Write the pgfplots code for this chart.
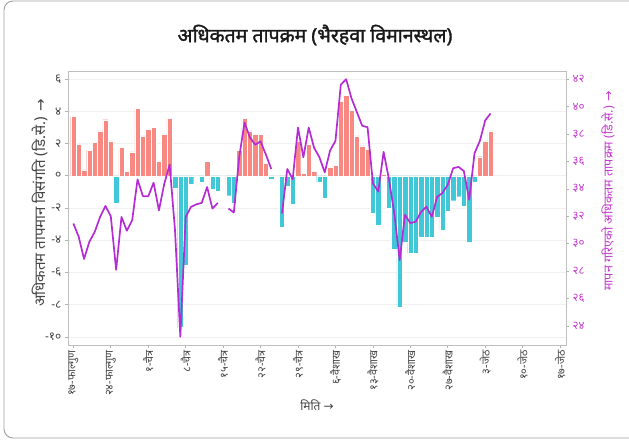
\documentclass[border=0pt]{standalone}
\usepackage{fontspec}
\setmainfont[Script=Devanagari]{Noto Sans}
\newfontfamily\titlefont[Script=Devanagari, FakeBold=1.6]{Noto Sans}
\newfontfamily\dejavu{DejaVu Sans}
\usepackage{pgfplots}
\pgfplotsset{compat=1.18}
\definecolor{posbar}{RGB}{248,137,130}
\definecolor{negbar}{RGB}{64,200,216}
\definecolor{tline}{RGB}{182,44,212}
\definecolor{raxis}{RGB}{196,60,208}
\definecolor{txt}{RGB}{70,70,70}

\pgfplotstableread{
day val
0 3.67
1 1.96
2 0.37
3 1.59
4 2.06
5 2.78
6 3.48
7 2.16
9 1.77
10 0.27
11 1.48
12 4.18
13 2.47
14 2.89
15 2.99
16 0.89
17 2.58
18 3.57
25 0.89
31 1.59
32 3.57
33 2.78
34 2.58
35 2.58
36 0.78
42 2.16
43 0.14
44 1.96
45 0.27
48 0.52
49 0.66
50 4.60
51 4.99
52 4.08
53 2.47
54 1.86
55 1.65
58 0.10
76 1.18
77 2.16
78 2.78
}\posdata

\pgfplotstableread{
day val
8 -1.71
19 -0.78
20 -9.42
21 -5.55
22 -0.52
24 -0.41
26 -0.82
27 -0.93
29 -1.24
30 -1.71
37 -0.20
39 -3.20
40 -0.62
41 -1.79
46 -0.41
47 -1.40
56 -2.31
57 -3.09
59 -2.00
60 -4.54
61 -8.14
62 -4.12
63 -4.80
64 -4.80
65 -3.81
66 -3.81
67 -3.81
68 -2.58
69 -3.40
70 -2.20
71 -1.55
72 -1.30
73 -1.90
74 -4.12
75 -0.41
}\negdata

\pgfplotstableread{
day temp
0 31.47
1 30.50
2 28.88
3 30.14
4 30.86
5 31.95
6 32.75
7 32.00
8 28.09
9 31.95
10 30.94
11 31.71
12 34.68
13 33.47
14 33.45
15 34.44
16 32.43
17 34.37
18 35.77
19 31.00
20 23.20
21 31.95
22 32.68
23 32.87
24 32.97
25 34.13
26 32.56
27 32.97
28 nan
29 32.56
30 32.27
31 36.30
32 38.84
33 37.75
34 37.22
35 37.46
36 36.49
37 35.45
38 nan
39 32.20
40 35.45
41 34.70
42 38.47
43 36.30
44 38.47
45 37.00
46 36.30
47 35.20
48 36.80
49 37.50
50 41.60
51 42.00
52 40.60
53 39.60
54 38.60
55 38.50
56 34.40
57 33.80
58 36.70
59 34.70
60 32.20
61 28.80
62 32.10
63 31.50
64 31.60
65 32.30
66 32.70
67 31.95
68 33.40
69 33.70
70 34.30
71 35.50
72 35.60
73 35.30
74 33.20
75 36.60
76 37.50
77 39.00
78 39.50
}\tempdata

\begin{document}
\begin{tikzpicture}[x=1pt,y=1pt]
\useasboundingbox (0,0) rectangle (629,439);
\draw[gray!75, rounded corners=9pt, line width=0.9pt] (4,1) rectangle (670,438);

\begin{axis}[
  at={(68pt,94pt)}, anchor=south west, scale only axis,
  width=498pt, height=274pt,
  xmin=-1, xmax=92.1, ymin=-10.5, ymax=6.5,
  axis line style={draw=gray!50, line width=0.8pt},
  xtick={0,7,...,91},
  xticklabels={१७-फाल्गुण,२४-फाल्गुण,१-चैत्र,८-चैत्र,१५-चैत्र,२२-चैत्र,२९-चैत्र,६-वैशाख,१३-वैशाख,२०-वैशाख,२७-वैशाख,३-जेठ,१०-जेठ,१७-जेठ},
  xticklabel style={rotate=90, anchor=east, font=\fontsize{11}{12}\selectfont, text=txt, inner sep=2pt},
  ytick={-10,-8,...,6},
  yticklabels={-१०,-८,-६,-४,-२,०,२,४,६},
  yticklabel style={font=\fontsize{12}{14}\selectfont, text=txt},
  ytick pos=left, xtick pos=bottom,
  tick align=outside, major tick length=3pt,
  tick style={gray!60, line width=0.6pt},
  ymajorgrids, grid style={gray!12, line width=0.6pt},
  clip=true,
]
\addplot[ybar, bar width=1, bar shift=0pt, fill=posbar, draw=white, line width=0.3pt] table[x=day,y=val] {\posdata};
\addplot[ybar, bar width=1, bar shift=0pt, fill=negbar, draw=white, line width=0.3pt] table[x=day,y=val] {\negdata};
\end{axis}

\begin{axis}[
  at={(68pt,94pt)}, anchor=south west, scale only axis,
  width=498pt, height=274pt,
  xmin=-1, xmax=92.1, ymin=22.6, ymax=42.6,
  axis x line=none, axis y line*=right,
  axis line style={draw=gray!50, line width=0.8pt},
  ytick={24,26,...,42},
  yticklabels={२४,२६,२८,३०,३२,३४,३६,३८,४०,४२},
  yticklabel style={font=\fontsize{11.5}{13}\selectfont, text=raxis},
  tick align=outside, major tick length=3pt,
  tick style={gray!60, line width=0.6pt},
  unbounded coords=jump,
]
\addplot[tline, line width=1.7pt, no markers, line join=round] table[x=day,y=temp] {\tempdata};
\end{axis}

\node[font=\titlefont\fontsize{19.5}{22}\selectfont, text=black!90] at (315,404) {अधिकतम तापक्रम (भैरहवा विमानस्थल)};
\node[rotate=90, font=\fontsize{15}{17}\selectfont, text=txt] at (40,236) {अधिकतम तापमान विसंगति (डि.से.) {\dejavu →}};
\node[rotate=90, font=\fontsize{12.5}{14}\selectfont, text=raxis] at (608,248) {मापन गरिएको अधिकतम तापक्रम (डि.से.) {\dejavu →}};
\node[font=\fontsize{12}{14}\selectfont, text=txt] at (317,34) {मिति {\dejavu →}};
\end{tikzpicture}
\end{document}
